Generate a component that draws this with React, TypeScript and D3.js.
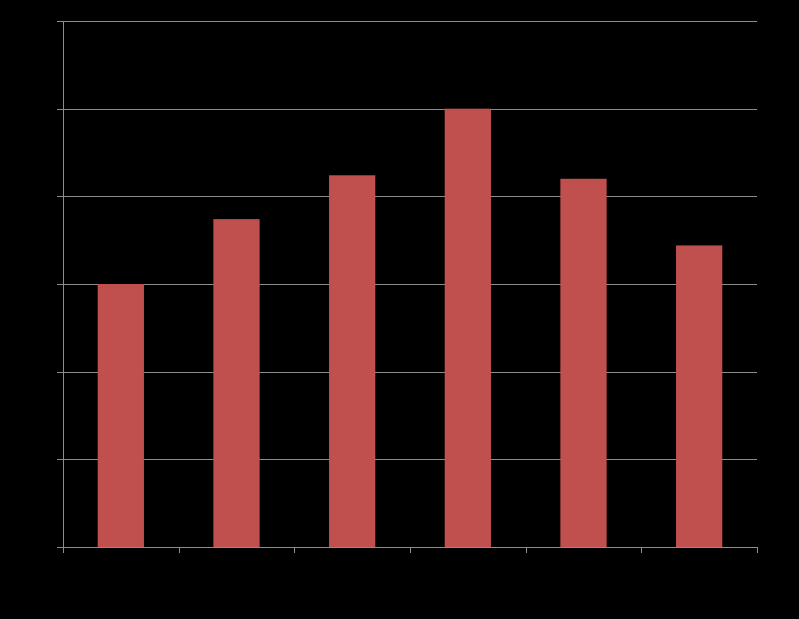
import React from "react";
import * as d3 from "d3";

const categories = ["1", "2", "3", "4", "5", "6"];
const values = [30, 37.4, 42.4, 50, 42, 34.4];
const yTicks = [0, 10, 20, 30, 40, 50, 60];

export default function App() {
  const W = 799, H = 619;
  const left = 63, right = 757, top = 21, bottom = 547;
  const x = d3.scaleBand<string>().domain(categories).range([left, right]).paddingInner(0.6).paddingOuter(0.3);
  const xOuter = d3.scaleBand<string>().domain(categories).range([left, right]);
  const y = d3.scaleLinear().domain([0, 60]).range([bottom, top]);
  const grid = "#8c8c8c";
  return (
    <svg width={W} height={H} style={{ position: "absolute", left: 0, top: 0, background: "#000" }}>
      <rect x={0} y={0} width={W} height={H} fill="#000" />
      {yTicks.map((t) => (
        <g key={t}>
          <line x1={left - 6} x2={right} y1={Math.round(y(t)) + 0.5} y2={Math.round(y(t)) + 0.5} stroke={grid} strokeWidth={1} />
          <text x={left - 10} y={y(t) + 4} textAnchor="end" fontFamily="Liberation Sans, Arial, sans-serif" fontSize={12} fill="#000">{t}</text>
        </g>
      ))}
      {categories.map((c, i) => (
        <rect key={c} x={x(c)} y={y(values[i])} width={x.bandwidth()} height={bottom - y(values[i])} fill="#C0504D" />
      ))}
      <line x1={left + 0.5} x2={left + 0.5} y1={top} y2={bottom + 5} stroke={grid} strokeWidth={1} />
      <line x1={left} x2={right} y1={bottom + 0.5} y2={bottom + 0.5} stroke={grid} strokeWidth={1} />
      {[...categories.map((c) => xOuter(c) as number), right].map((tx, i) => (
        <line key={i} x1={Math.round(tx) + 0.5} x2={Math.round(tx) + 0.5} y1={bottom} y2={bottom + 6} stroke={grid} strokeWidth={1} />
      ))}
      {categories.map((c) => (
        <text key={c} x={(xOuter(c) as number) + xOuter.bandwidth() / 2} y={bottom + 20} textAnchor="middle" fontFamily="Liberation Sans, Arial, sans-serif" fontSize={12} fill="#000">{c}</text>
      ))}
    </svg>
  );
}
